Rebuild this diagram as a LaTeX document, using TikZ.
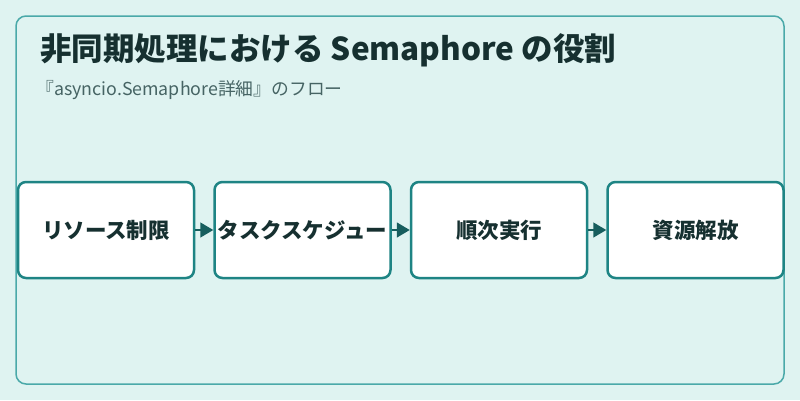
\documentclass[tikz,border=0pt]{standalone}
\usepackage{fontspec}
\setmainfont{Noto Sans CJK JP}
\usetikzlibrary{positioning,arrows.meta}
\definecolor{bgcol}{HTML}{DFF3F1}
\definecolor{panelcol}{HTML}{4AA9A9}
\definecolor{boxcol}{HTML}{1E8484}
\definecolor{arrcol}{HTML}{175E5E}
\definecolor{titlecol}{HTML}{163030}
\definecolor{subcol}{HTML}{466464}

\begin{document}
\begin{tikzpicture}[x=1pt,y=-1pt,>={Triangle[length=13pt,width=15pt]},
		node distance=18pt,
		stage/.style={draw=boxcol,line width=2.5pt,fill=white,rounded corners=8pt,
			minimum width=176pt,minimum height=96pt,inner sep=0pt,
			font=\bfseries\fontsize{21.5}{24}\selectfont,text=titlecol}]
		\fill[bgcol] (0,0) rectangle (800,400);
		\draw[panelcol,line width=1.5pt,rounded corners=10pt] (16,16) rectangle (784,384);
		\node[anchor=base west,text=titlecol,font=\bfseries\fontsize{31.5}{36}\selectfont,inner sep=0pt] (title) at (40,60) {非同期処理における Semaphore の役割};
		\node[anchor=base west,text=subcol,font=\fontsize{17.8}{21}\selectfont,inner sep=0pt] (sub) at (36,95) {『asyncio.Semaphore詳細』のフロー};

		\node[stage] (A) at (106,230) {リソース制限};
		\node[stage,right=of A] (B) {タスクスケジュー};
		\node[stage,right=of B] (C) {順次実行};
		\node[stage,right=of C] (D) {資源解放};

		\path[->,draw=arrcol,fill=arrcol,line width=1.5pt] (A) edge (B)
				  (B) edge (C)
				  (C) edge (D);
	\end{tikzpicture}
\end{document}
